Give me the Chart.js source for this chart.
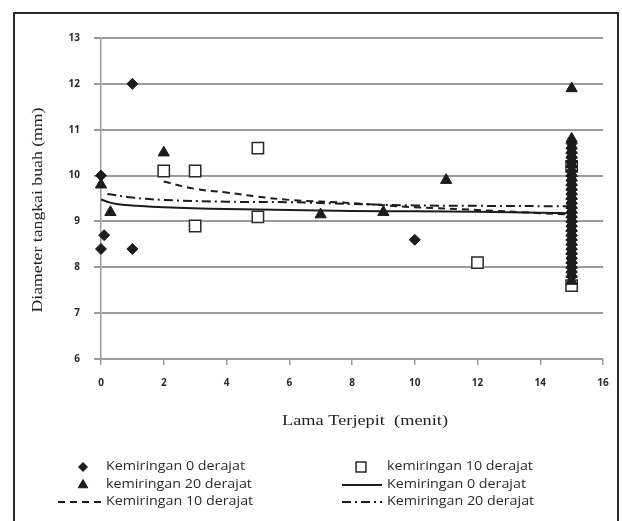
<!DOCTYPE html>
<html>
<head>
<meta charset="utf-8">
<script src="https://cdn.jsdelivr.net/npm/chart.js@4.4.1/dist/chart.umd.min.js"></script>
<style>
  html, body { margin: 0; padding: 0; background: #fff; }
  body { width: 622px; height: 521px; position: relative; overflow: hidden; filter: blur(0.45px); }
  #frame { position: absolute; left: 13px; top: 12px; width: 602px; height: 600px; border: 2.5px solid #2a2a2a; }
  #chart { position: absolute; left: 0; top: 0; }
</style>
</head>
<body>
<div id="frame"></div>
<canvas id="chart" width="622" height="521"></canvas>
<script>
const k0X = [0, 0, 0.1, 1, 1, 10,
  15, 15, 15, 15, 15, 15, 15, 15, 15, 15, 15, 15, 15, 15, 15,
  15, 15, 15, 15, 15, 15, 15, 15, 15, 15, 15, 15, 15, 15, 15];
const k0Y = [10.0, 8.4, 8.7, 12.0, 8.4, 8.6,
  7.8, 7.9, 8.0, 8.1, 8.2, 8.3, 8.4, 8.5, 8.6, 8.7, 8.8, 8.9, 9.0, 9.1, 9.2,
  9.3, 9.4, 9.5, 9.6, 9.7, 9.8, 9.9, 10.0, 10.1, 10.2, 10.3, 10.4, 10.5, 10.6, 10.7];

const k10X = [2, 3, 3, 5, 5, 12, 15, 15];
const k10Y = [10.1, 10.1, 8.9, 10.6, 9.1, 8.1, 7.6, 10.2];

const k20X = [0, 0.3, 2, 7, 9, 11, 15,
  15, 15, 15, 15, 15, 15, 15, 15, 15, 15, 15, 15, 15, 15, 15,
  15, 15, 15, 15, 15, 15, 15, 15, 15, 15, 15, 15, 15, 15, 15];
const k20Y = [9.8, 9.2, 10.5, 9.15, 9.2, 9.9, 11.9,
  7.7, 7.85, 7.95, 8.05, 8.15, 8.25, 8.35, 8.45, 8.55, 8.65, 8.75, 8.85, 8.95, 9.05, 9.15,
  9.25, 9.35, 9.45, 9.55, 9.65, 9.75, 9.85, 9.95, 10.05, 10.25, 10.35, 10.45, 10.55, 10.65, 10.8];

// fitted trend lines
const fit0X = [0, 0.25, 0.5, 1, 2, 4, 6, 8, 10, 12, 15];
const fit0Y = [9.48, 9.42, 9.38, 9.35, 9.31, 9.27, 9.25, 9.23, 9.22, 9.21, 9.18];
const fit10X = [2, 3, 4, 5, 6, 8, 10, 12, 14, 15];
const fit10Y = [9.87, 9.71, 9.63, 9.54, 9.47, 9.40, 9.31, 9.25, 9.18, 9.15];
const fit20X = [0.2, 1, 2, 4, 6, 8, 10, 12, 15];
const fit20Y = [9.6, 9.52, 9.47, 9.43, 9.42, 9.38, 9.35, 9.34, 9.33];

const xTicks = [0, 2, 4, 6, 8, 10, 12, 14, 16];
const yTicks = [6, 7, 8, 9, 10, 11, 12, 13];

const xTitle = 'Lama Terjepit  (menit)';
const yTitle = 'Diameter tangkai buah (mm)';

const ink = '#1c1c1c';
const gridGrey = '#9c9c9c';

function pts(xs, ys) {
    return xs.map((x, i) => ({ x: x, y: ys[i] }));
}

// axis titles + two-column legend drawn by hand
const decorations = {
    id: 'decorations',
    afterDraw(chart) {
        const ctx = chart.ctx;
        ctx.save();
        ctx.fillStyle = '#222';
        ctx.textAlign = 'center';
        ctx.textBaseline = 'middle';
        ctx.font = '15px "Liberation Serif"';

        let w = ctx.measureText(xTitle).width;
        ctx.save();
        ctx.translate(365, 421);
        ctx.scale(166 / w, 1);
        ctx.fillText(xTitle, 0, 0);
        ctx.restore();

        w = ctx.measureText(yTitle).width;
        ctx.save();
        ctx.translate(38, 210);
        ctx.rotate(-Math.PI / 2);
        ctx.scale(205 / w, 1);
        ctx.fillText(yTitle, 0, 0);
        ctx.restore();

        const markX = [83, 361];
        const lineFrom = [58, 342];
        const lineTo = [104, 382];
        const textX = [106, 387];
        const rowY = [467, 485, 502];

        ctx.textAlign = 'left';
        ctx.font = '12px "Open Sans"';
        chart.data.datasets.forEach((ds, i) => {
            const col = i % 2, row = Math.floor(i / 2);
            const y = rowY[row];
            if (ds.showLine) {
                ctx.save();
                ctx.strokeStyle = ds.borderColor;
                ctx.lineWidth = ds.borderWidth;
                ctx.setLineDash(ds.borderDash || []);
                ctx.beginPath();
                ctx.moveTo(lineFrom[col], y);
                ctx.lineTo(lineTo[col], y);
                ctx.stroke();
                ctx.restore();
            } else {
                ctx.save();
                ctx.fillStyle = ds.backgroundColor;
                ctx.strokeStyle = ds.borderColor;
                ctx.lineWidth = ds.borderWidth;
                Chart.helpers.drawPoint(ctx, {
                    pointStyle: ds.pointStyle, radius: ds.pointRadius - 1,
                    rotation: 0, borderWidth: ds.borderWidth
                }, markX[col], y);
                ctx.restore();
            }
            ctx.save();
            ctx.fillStyle = '#2a2a2a';
            ctx.translate(textX[col], y);
            ctx.scale(139 / ctx.measureText('Kemiringan 0 derajat').width, 1);
            ctx.fillText(ds.label, 0, 0);
            ctx.restore();
        });
        ctx.restore();
    }
};

new Chart(document.getElementById('chart'), {
    type: 'scatter',
    data: {
        datasets: [
            { label: 'Kemiringan 0 derajat', data: pts(k0X, k0Y), order: 0, clip: false,
              pointStyle: 'rectRot', pointRadius: 5.5, backgroundColor: ink, borderColor: ink, borderWidth: 1 },
            { label: 'kemiringan 10 derajat', data: pts(k10X, k10Y), order: 2, clip: false,
              pointStyle: 'rect', pointRadius: 8, backgroundColor: '#fff', borderColor: '#2a2a2a', borderWidth: 1.5 },
            { label: 'kemiringan 20 derajat', data: pts(k20X, k20Y), order: 1, clip: false,
              pointStyle: 'triangle', pointRadius: 6.5, backgroundColor: ink, borderColor: ink, borderWidth: 1 },
            { label: 'Kemiringan 0 derajat', data: pts(fit0X, fit0Y), order: 3, showLine: true,
              pointRadius: 0, borderColor: ink, borderWidth: 2, tension: 0.4, fill: false },
            { label: 'Kemiringan 10 derajat', data: pts(fit10X, fit10Y), order: 3, showLine: true,
              pointRadius: 0, borderColor: ink, borderWidth: 2, borderDash: [7, 5], tension: 0.4, fill: false },
            { label: 'Kemiringan 20 derajat', data: pts(fit20X, fit20Y), order: 3, showLine: true,
              pointRadius: 0, borderColor: ink, borderWidth: 2, borderDash: [9, 4, 2, 4], tension: 0.4, fill: false }
        ]
    },
    options: {
        responsive: false,
        animation: false,
        events: [],
        layout: { padding: { top: 38, right: 19, left: 0, bottom: 0 } },
        plugins: { legend: { display: false }, tooltip: { enabled: false } },
        scales: {
            x: {
                type: 'linear', min: 0, max: 16,
                afterBuildTicks: s => { s.ticks = xTicks.map(v => ({ value: v })); },
                afterFit: s => { s.height = 162; },
                ticks: { color: '#2a2a2a', padding: 12, font: { family: '"Open Sans"', size: 10, weight: 'bold' } },
                grid: { drawOnChartArea: false, drawTicks: true, tickLength: 6, color: gridGrey, lineWidth: 1.5 },
                border: { color: gridGrey, width: 1.5 }
            },
            y: {
                min: 6, max: 13,
                afterBuildTicks: s => { s.ticks = yTicks.map(v => ({ value: v })); },
                afterFit: s => { s.width = 101; },
                ticks: { color: '#2a2a2a', padding: 14, font: { family: '"Open Sans"', size: 10, weight: 'bold' } },
                grid: { color: gridGrey, lineWidth: 2, tickLength: 7 },
                border: { color: gridGrey, width: 1.5 }
            }
        }
    },
    plugins: [decorations]
});
</script>
</body>
</html>
